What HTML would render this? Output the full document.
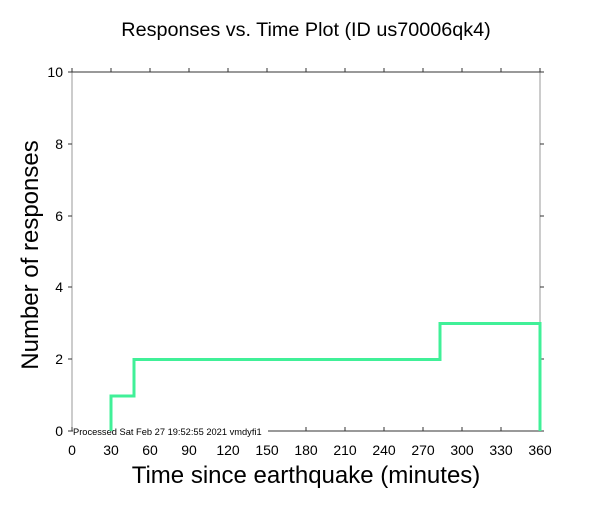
<!DOCTYPE html>
<html><head><style>body{margin:0;background:#fff}</style></head><body>
<svg width="612" height="504" xmlns="http://www.w3.org/2000/svg" font-family="Liberation Sans, sans-serif">
<rect width="612" height="504" fill="#fff"/>
<text x="306" y="36" font-size="19.8" text-anchor="middle">Responses vs. Time Plot (ID us70006qk4)</text>
<line x1="72" y1="72" x2="72" y2="431" stroke="#999" stroke-width="1"/>
<line x1="540" y1="72" x2="540" y2="431" stroke="#999" stroke-width="1"/>
<line x1="72" y1="72" x2="540" y2="72" stroke="#333" stroke-width="1"/>
<line x1="72" y1="431" x2="540" y2="431" stroke="#333" stroke-width="1"/>
<g stroke="#333" stroke-width="1">
<line x1="72" y1="72" x2="72" y2="68"/><line x1="111" y1="72" x2="111" y2="68"/><line x1="150" y1="72" x2="150" y2="68"/><line x1="189" y1="72" x2="189" y2="68"/><line x1="228" y1="72" x2="228" y2="68"/><line x1="267" y1="72" x2="267" y2="68"/><line x1="306" y1="72" x2="306" y2="68"/><line x1="345" y1="72" x2="345" y2="68"/><line x1="384" y1="72" x2="384" y2="68"/><line x1="423" y1="72" x2="423" y2="68"/><line x1="462" y1="72" x2="462" y2="68"/><line x1="501" y1="72" x2="501" y2="68"/><line x1="540" y1="72" x2="540" y2="68"/>
<line x1="72" y1="431" x2="72" y2="427"/><line x1="111" y1="431" x2="111" y2="427"/><line x1="150" y1="431" x2="150" y2="427"/><line x1="189" y1="431" x2="189" y2="427"/><line x1="228" y1="431" x2="228" y2="427"/><line x1="267" y1="431" x2="267" y2="427"/><line x1="306" y1="431" x2="306" y2="427"/><line x1="345" y1="431" x2="345" y2="427"/><line x1="384" y1="431" x2="384" y2="427"/><line x1="423" y1="431" x2="423" y2="427"/><line x1="462" y1="431" x2="462" y2="427"/><line x1="501" y1="431" x2="501" y2="427"/><line x1="540" y1="431" x2="540" y2="427"/>
<line x1="68" y1="72" x2="72" y2="72"/><line x1="68" y1="144" x2="72" y2="144"/><line x1="68" y1="216" x2="72" y2="216"/><line x1="68" y1="287" x2="72" y2="287"/><line x1="68" y1="359" x2="72" y2="359"/><line x1="68" y1="431" x2="72" y2="431"/>
<line x1="540" y1="72" x2="544" y2="72"/><line x1="540" y1="144" x2="544" y2="144"/><line x1="540" y1="216" x2="544" y2="216"/><line x1="540" y1="287" x2="544" y2="287"/><line x1="540" y1="359" x2="544" y2="359"/><line x1="540" y1="431" x2="544" y2="431"/>
</g>
<g font-size="14" text-anchor="end">
<text x="63" y="77">10</text><text x="63" y="149">8</text><text x="63" y="221">6</text><text x="63" y="292">4</text><text x="63" y="364">2</text><text x="63" y="436">0</text>
</g>
<g font-size="14" text-anchor="middle">
<text x="72" y="455">0</text><text x="111" y="455">30</text><text x="150" y="455">60</text><text x="189" y="455">90</text><text x="228" y="455">120</text><text x="267" y="455">150</text><text x="306" y="455">180</text><text x="345" y="455">210</text><text x="384" y="455">240</text><text x="423" y="455">270</text><text x="462" y="455">300</text><text x="501" y="455">330</text><text x="540" y="455">360</text>
</g>
<rect x="73" y="425" width="195" height="11" fill="#fff"/>
<text x="73" y="435" font-size="9.3">Processed Sat Feb 27 19:52:55 2021 vmdyfi1</text>
<polyline points="111,431 111,396 134,396 134,359.5 440,359.5 440,323.5 540,323.5 540,431" fill="none" stroke="#40f098" stroke-width="3"/>
<text x="306" y="483" font-size="24" text-anchor="middle">Time since earthquake (minutes)</text>
<text transform="translate(38,255) rotate(-90)" font-size="24" text-anchor="middle">Number of responses</text>
</svg>
</body></html>
